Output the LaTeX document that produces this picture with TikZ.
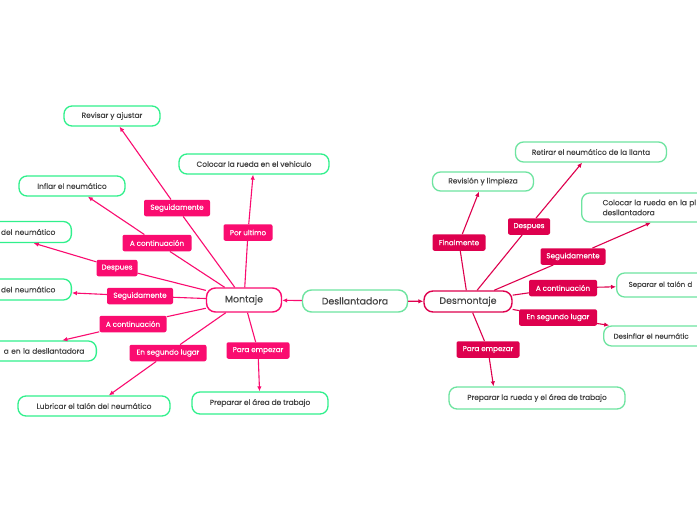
\documentclass[tikz,border=0pt]{standalone}
\usepackage{fontspec}
\setmainfont{Poppins}[UprightFeatures={FakeBold=0.35}]
\usetikzlibrary{arrows.meta}

\definecolor{hotpink}{RGB}{250,12,112}
\definecolor{crimson}{RGB}{222,0,78}
\definecolor{leafgreen}{RGB}{48,240,140}
\definecolor{softgreen}{RGB}{110,228,160}
\definecolor{textgray}{RGB}{68,68,68}

\tikzset{
  leaf/.style={draw=leafgreen,line width=1.3pt,rounded corners=8pt,fill=white,
    text=textgray,font=\fontsize{7.4}{9}\selectfont,inner xsep=2pt,inner ysep=0pt},
  rleaf/.style={leaf,draw=softgreen},
  hub/.style={draw=#1,line width=1.4pt,rounded corners=9pt,fill=white,
    text=textgray,font=\fontsize{9.4}{11}\selectfont,inner sep=0pt},
  tag/.style={fill=#1,rounded corners=2pt,text=white,
    font=\fontsize{7.2}{8}\selectfont,inner sep=0pt},
  link/.style={draw=#1,line width=1.1pt},
  tip/.style={link=#1,-{Latex[length=5pt,width=4.5pt]}}
}

\begin{document}
\begin{tikzpicture}[x=1pt,y=-1pt]
      \useasboundingbox[fill=white] (0,0) rectangle (697,520);

      % centre
      \node[hub=softgreen,minimum width=105,minimum height=22] (dell) at (355,301) {Desllantadora};
      \node[hub=hotpink,minimum width=75,minimum height=24]    (mont) at (244,300) {Montaje};
      \node[hub=crimson,minimum width=88,minimum height=21]    (desm) at (468,301.5) {Desmontaje};

      % montaje
      \begin{scope}[every node/.style={leaf,minimum height=20}]
        \node[minimum width=96]  (revisar)  at (112,116) {Revisar y ajustar};
        \node[minimum width=150] (colveh)   at (254,164) {Colocar la rueda en el vehiculo};
        \node[minimum width=106] (inflar)   at (72,186)  {Inflar el neumático};
        \node[anchor=east,text width=118,inner xsep=16,align=right,minimum height=21] (talonA) at (72,232) {del neumático};
        \node[anchor=east,text width=118,inner xsep=16,align=right,minimum height=21] (talonB) at (72,289.5) {del neumático};
        \node[anchor=east,text width=136,inner xsep=12,align=right] (ruedaL) at (97,351) {a en la desllantadora};
        \node[minimum width=152] (lubricar) at (94,406)  {Lubricar el talón del neumático};
        \node[minimum width=136,minimum height=22] (prepL) at (260,403) {Preparar el área de trabajo};
      \end{scope}

      \begin{scope}[every node/.style={tag=hotpink,minimum height=16.5}]
        \node[minimum width=66] (lseg)   at (177,208)   {Seguidamente};
        \node[minimum width=69] (lcontA) at (157,243)   {A continuación};
        \node[minimum width=41] (ldesp)  at (117,268)   {Despues};
        \node[minimum width=66] (lsegB)  at (140,296)   {Seguidamente};
        \node[minimum width=67] (lcontB) at (133,324)   {A continuación};
        \node[minimum width=77] (llugar) at (168,353)   {En segundo lugar};
        \node[minimum width=63] (lpara)  at (258,350.5) {Para empezar};
        \node[minimum width=49] (lpor)   at (248,232.5) {Por ultimo};
      \end{scope}

      % desmontaje
      \begin{scope}[every node/.style={rleaf,minimum height=20}]
        \node[minimum width=101,minimum height=19] (revision) at (483,181.5) {Revisión y limpieza};
        \node[minimum width=151] (retirar) at (591,152) {Retirar el neumático de la llanta};
        \node[anchor=west,text width=166,inner xsep=21,align=left,minimum height=29,
              font=\fontsize{7.4}{10}\selectfont] (colplat) at (581,207.5) {Colocar la rueda en la pl\\desllantadora};
        \node[anchor=west,text width=130,inner xsep=12,align=left,minimum height=24,
              font=\fontsize{7}{9}\selectfont] (separar) at (616,285) {Separar el talón d};
        \node[anchor=west,text width=130,inner xsep=10,align=left,
              font=\fontsize{7}{9}\selectfont] (desinflar) at (603,336) {Desinflar el neumátic};
        \node[minimum width=176,minimum height=22] (prepR) at (537,398) {Preparar la rueda y el área de trabajo};
      \end{scope}

      \begin{scope}[every node/.style={tag=crimson,minimum height=16.5}]
        \node[minimum width=53] (rfin)   at (459,242.5) {Finalmente};
        \node[minimum width=42] (rdesp)  at (529,226.5) {Despues};
        \node[minimum width=65] (rseg)   at (573,256.5) {Seguidamente};
        \node[minimum width=68] (rcont)  at (563,288)   {A continuación};
        \node[minimum width=78] (rlugar) at (558,317.5) {En segundo lugar};
        \node[minimum width=63] (rpara)  at (488,349.5) {Para empezar};
      \end{scope}

      % connectors
      \begin{scope}[every edge/.style={link=hotpink}]
        \path (mont) edge (lseg) edge (lcontA) edge (ldesp) edge (lsegB)
                     edge (lcontB) edge (llugar) edge (lpara) edge (lpor);
      \end{scope}
      \begin{scope}[every edge/.style={tip=hotpink}]
        \path (lseg)   edge (revisar);
        \path (lcontA) edge (inflar);
        \path (ldesp)  edge (talonA);
        \path (lsegB)  edge (talonB);
        \path (lcontB) edge (ruedaL);
        \path (llugar) edge (lubricar);
        \path (lpara)  edge (prepL);
        \path (lpor)   edge (colveh);
        \path (dell)   edge (mont);
      \end{scope}

      \begin{scope}[every edge/.style={link=crimson}]
        \path (desm) edge (rfin) edge (rdesp) edge (rseg)
                     edge (rcont) edge (rlugar) edge (rpara);
      \end{scope}
      \begin{scope}[every edge/.style={tip=crimson}]
        \path (rfin)   edge (revision);
        \path (rdesp)  edge (retirar);
        \path (rseg)   edge (colplat);
        \path (rcont)  edge (separar);
        \path (rlugar) edge (desinflar);
        \path (rpara)  edge (prepR.165);
        \path (dell)   edge (desm);
      \end{scope}

    \end{tikzpicture}
\end{document}
